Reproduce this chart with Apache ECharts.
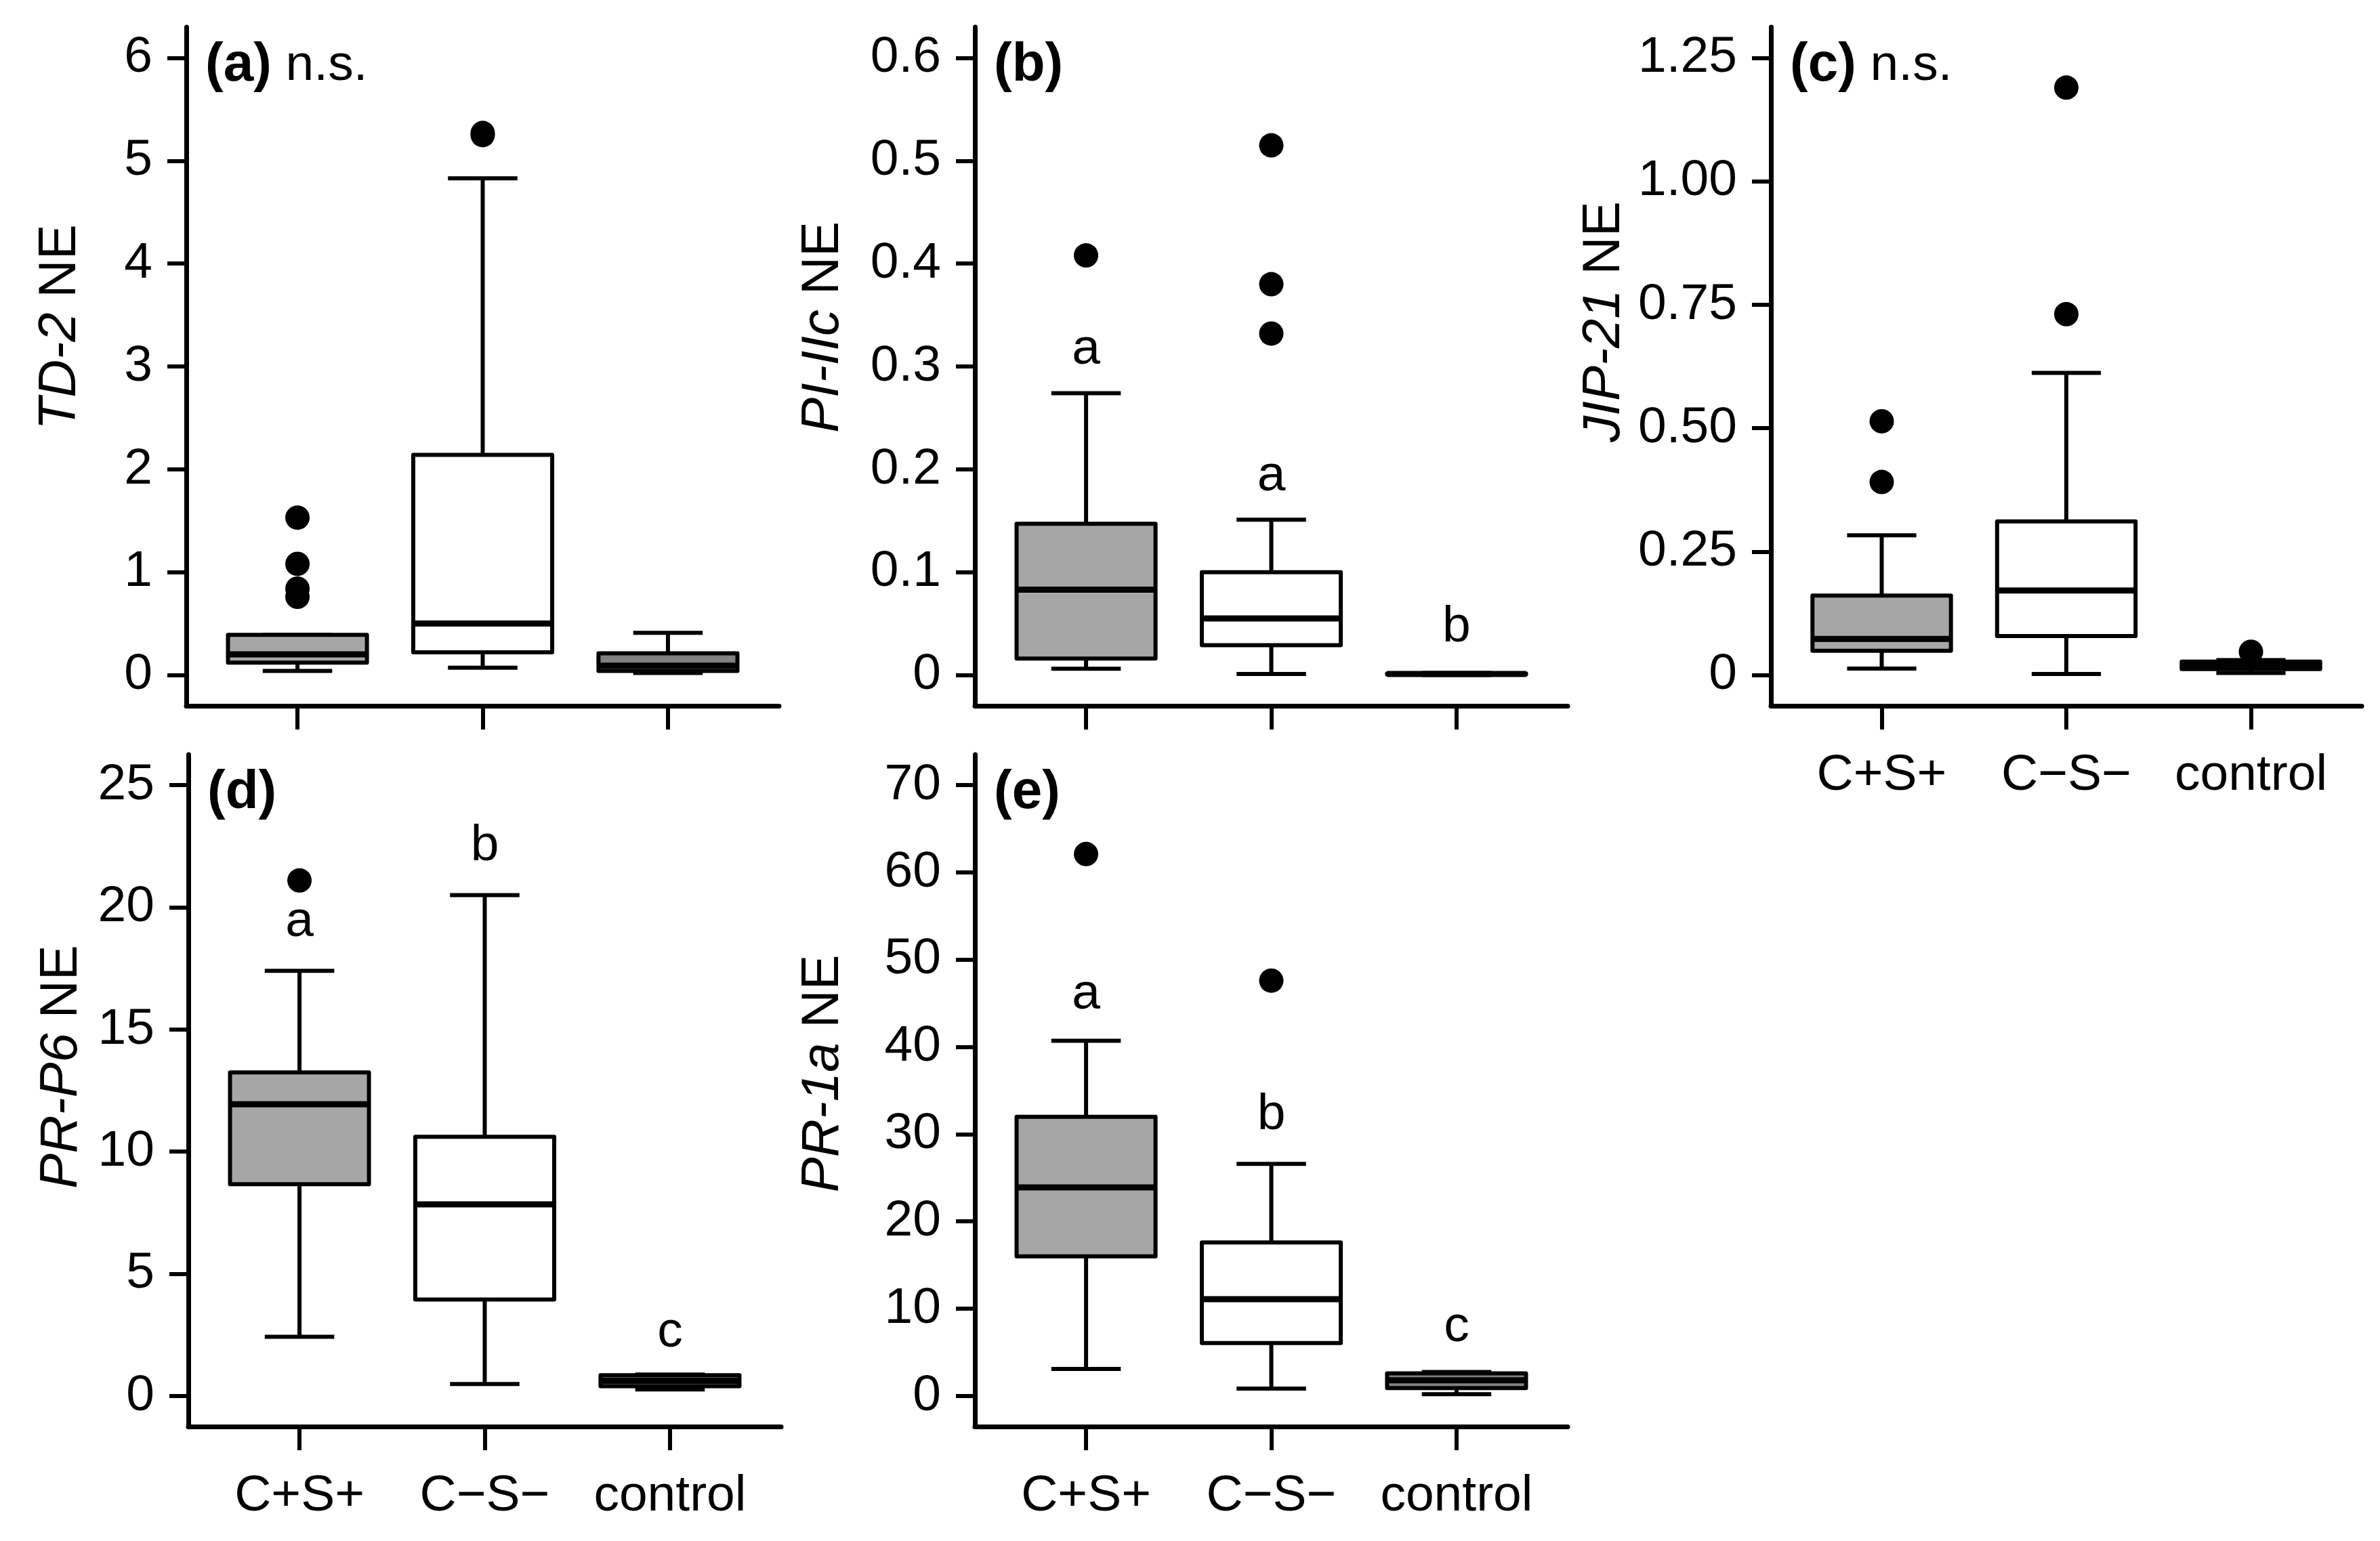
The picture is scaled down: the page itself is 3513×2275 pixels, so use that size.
<!DOCTYPE html>
<html>
<head>
<meta charset="utf-8">
<script src="https://cdn.jsdelivr.net/npm/echarts@6/dist/echarts.min.js"></script>
<style>
  html, body { margin: 0; background: #fff; }
  #chart { width: 3513px; height: 2275px; }
</style>
</head>
<body>
<div id="chart"></div>
<script>
// groups on the x axis
const groups = ['C+S+', 'C\u2212S\u2212', 'control']

// box stats per group: [low whisker, Q1, median, Q3, high whisker]
// (a) TD-2
const td2Stats = [[0.04, 0.12, 0.20, 0.39, 0.39], [0.07, 0.22, 0.50, 2.14, 4.83], [0.02, 0.04, 0.09, 0.21, 0.41]]
const td2Out = [[1.53, 1.08, 0.84, 0.76], [5.25, 5.27], []]
const td2Ticks = [0, 1, 2, 3, 4, 5, 6]
const td2TickText = ['0', '1', '2', '3', '4', '5', '6']

// (b) PI-IIc
const piStats = [[0.006, 0.016, 0.083, 0.147, 0.274], [0.001, 0.029, 0.055, 0.100, 0.151], [0.0, 0.0005, 0.001, 0.0015, 0.002]]
const piOut = [[0.408], [0.515, 0.380, 0.332], []]
const piTicks = [0, 0.1, 0.2, 0.3, 0.4, 0.5, 0.6]
const piTickText = ['0', '0.1', '0.2', '0.3', '0.4', '0.5', '0.6']
const piLetters = [['a', 0.316], ['a', 0.193], ['b', 0.046]]

// (c) JIP-21
const jipStats = [[0.013, 0.049, 0.073, 0.161, 0.283], [0.002, 0.079, 0.171, 0.311, 0.612], [0.004, 0.012, 0.020, 0.027, 0.030]]
const jipOut = [[0.514, 0.391], [1.19, 0.731], [0.047]]
const jipTicks = [0, 0.25, 0.5, 0.75, 1.0, 1.25]
const jipTickText = ['0', '0.25', '0.50', '0.75', '1.00', '1.25']

// (d) PR-P6
const p6Stats = [[2.42, 8.67, 11.94, 13.24, 17.4], [0.49, 3.95, 7.84, 10.61, 20.5], [0.27, 0.40, 0.62, 0.85, 0.88]]
const p6Out = [[21.1], [], []]
const p6Ticks = [0, 5, 10, 15, 20, 25]
const p6TickText = ['0', '5', '10', '15', '20', '25']
const p6Letters = [['a', 19.4], ['b', 22.5], ['c', 2.6]]

// (e) PR-1a
const p1aStats = [[3.1, 16.0, 23.9, 32.0, 40.7], [0.84, 6.07, 11.1, 17.6, 26.6], [0.2, 0.9, 1.8, 2.6, 2.75]]
const p1aOut = [[62.1], [47.6], []]
const p1aTicks = [0, 10, 20, 30, 40, 50, 60, 70]
const p1aTickText = ['0', '10', '20', '30', '40', '50', '60', '70']
const p1aLetters = [['a', 46.0], ['b', 32.2], ['c', 7.9]]

const FONT = '"Liberation Sans", Arial, sans-serif'
const boxFills = ['#a6a6a6', '#ffffff', '#808080']

const panels = [
  { tag: '(a)', ns: true, gene: 'TD-2', stats: td2Stats, out: td2Out, ticks: td2Ticks, tickText: td2TickText, min: -0.3, max: 6.3, letters: null, xLabels: false,
    grid: { left: 275, top: 40, width: 875, height: 1002 }, titleX: 89, titleY: 483 },
  { tag: '(b)', ns: false, gene: 'PI-IIc', stats: piStats, out: piOut, ticks: piTicks, tickText: piTickText, min: -0.03, max: 0.63, letters: piLetters, xLabels: false,
    grid: { left: 1439, top: 40, width: 875, height: 1002 }, titleX: 1215, titleY: 483 },
  { tag: '(c)', ns: true, gene: 'JIP-21', stats: jipStats, out: jipOut, ticks: jipTicks, tickText: jipTickText, min: -0.0625, max: 1.3125, letters: null, xLabels: true,
    grid: { left: 2614, top: 40, width: 872, height: 1002 }, titleX: 2368, titleY: 475 },
  { tag: '(d)', ns: false, gene: 'PR-P6', stats: p6Stats, out: p6Out, ticks: p6Ticks, tickText: p6TickText, min: -1.25, max: 26.25, letters: p6Letters, xLabels: true,
    grid: { left: 278, top: 1114, width: 875, height: 992 }, titleX: 91, titleY: 1575 },
  { tag: '(e)', ns: false, gene: 'PR-1a', stats: p1aStats, out: p1aOut, ticks: p1aTicks, tickText: p1aTickText, min: -3.5, max: 73.5, letters: p1aLetters, xLabels: true,
    grid: { left: 1439, top: 1114, width: 875, height: 992 }, titleX: 1215, titleY: 1585 }
]

// draws one R style box: whiskers with half-width staples, filled box, thick median
function boxRender (params, api) {
  const x = api.value(0)
  const fill = boxFills[api.value(6)]
  const bw = api.size([0.75, 0])[0]
  const cap = bw / 4
  const lo = api.coord([x, api.value(1)])
  const q1 = api.coord([x, api.value(2)])
  const md = api.coord([x, api.value(3)])
  const q3 = api.coord([x, api.value(4)])
  const hi = api.coord([x, api.value(5)])
  const cx = lo[0]
  const line = (x1, y1, x2, y2, w) => ({ type: 'line', shape: { x1, y1, x2, y2 }, style: { stroke: '#000', lineWidth: w } })
  return {
    type: 'group',
    children: [
      line(cx, lo[1], cx, q1[1], 6),
      line(cx, q3[1], cx, hi[1], 6),
      line(cx - cap, lo[1], cx + cap, lo[1], 6),
      line(cx - cap, hi[1], cx + cap, hi[1], 6),
      { type: 'rect', shape: { x: cx - bw / 2, y: q3[1], width: bw, height: q1[1] - q3[1] }, style: { fill: fill, stroke: '#000', lineWidth: 6, lineJoin: 'round' } },
      line(cx - bw / 2, md[1], cx + bw / 2, md[1], 9)
    ]
  }
}

// significance letters above the boxes
function letterRender (params, api) {
  const p = api.coord([api.value(0), api.value(1)])
  return {
    type: 'text', x: p[0], y: p[1],
    style: { text: params.context.letters[params.dataIndex], fill: '#000', fontSize: 75, fontFamily: FONT, align: 'center', verticalAlign: 'middle' }
  }
}

const grids = []
const xAxes = []
const yAxes = []
const series = []
const graphics = []

panels.forEach((p, i) => {
  grids.push(Object.assign({ containLabel: false }, p.grid))
  xAxes.push({
    gridIndex: i, type: 'value', min: 0.4, max: 3.6,
    axisLine: { show: true, onZero: false, lineStyle: { color: '#000', width: 7 } },
    axisTick: { show: true, customValues: [1, 2, 3], length: 35, lineStyle: { color: '#000', width: 6 } },
    axisLabel: { show: p.xLabels, customValues: [1, 2, 3], formatter: v => groups[Math.round(v) - 1], color: '#000', fontSize: 75, fontFamily: FONT, margin: 66 },
    splitLine: { show: false }
  })
  yAxes.push({
    gridIndex: i, type: 'value', min: p.min, max: p.max,
    axisLine: { show: true, onZero: false, lineStyle: { color: '#000', width: 7 } },
    axisTick: { show: true, customValues: p.ticks, length: 28, lineStyle: { color: '#000', width: 6 } },
    axisLabel: {
      show: true, customValues: p.ticks, color: '#000', fontSize: 75, fontFamily: FONT, margin: 50,
      formatter: v => {
        let k = 0
        p.ticks.forEach((t, j) => { if (Math.abs(t - v) < Math.abs(p.ticks[k] - v)) k = j })
        return p.tickText[k]
      }
    },
    splitLine: { show: false }
  })
  series.push({
    type: 'custom', xAxisIndex: i, yAxisIndex: i, renderItem: boxRender, clip: false, silent: true,
    encode: { x: 0, y: [1, 2, 3, 4, 5] },
    data: p.stats.map((s, k) => [k + 1, s[0], s[1], s[2], s[3], s[4], k])
  })
  series.push({
    type: 'scatter', xAxisIndex: i, yAxisIndex: i, symbol: 'circle', symbolSize: 36, silent: true,
    itemStyle: { color: '#000', opacity: 1 },
    data: p.out.flatMap((arr, k) => arr.map(v => [k + 1, v]))
  })
  if (p.letters) {
    const txt = p.letters.map(l => l[0])
    series.push({
      type: 'custom', xAxisIndex: i, yAxisIndex: i, clip: false, silent: true,
      renderItem: (params, api) => { params.context.letters = txt; return letterRender(params, api) },
      encode: { x: 0, y: 1 },
      data: p.letters.map((l, k) => [k + 1, l[1]])
    })
  }
  // rotated y title, gene name in italics
  graphics.push({
    type: 'text', x: p.titleX, y: p.titleY, rotation: Math.PI / 2, silent: true,
    style: {
      text: '{i|' + p.gene + '} NE',
      rich: { i: { fontStyle: 'italic', fontSize: 78, fontFamily: FONT, fill: '#000' } },
      fontSize: 78, fontFamily: FONT, fill: '#000', align: 'center', verticalAlign: 'middle'
    }
  })
  // panel tag
  graphics.push({
    type: 'text', x: p.grid.left + 28, y: p.grid.top + 57, silent: true,
    style: {
      text: '{b|' + p.tag + '}' + (p.ns ? ' n.s.' : ''),
      rich: { b: { fontWeight: 'bold', fontSize: 80, fontFamily: FONT, fill: '#000' } },
      fontSize: 75, fontFamily: FONT, fill: '#000', align: 'left', verticalAlign: 'middle'
    }
  })
})

const myChart = echarts.init(document.getElementById('chart'), null, { renderer: 'canvas' })
myChart.setOption({
  animation: false,
  backgroundColor: '#fff',
  grid: grids,
  xAxis: xAxes,
  yAxis: yAxes,
  series: series,
  graphic: graphics
})
</script>
</body>
</html>
